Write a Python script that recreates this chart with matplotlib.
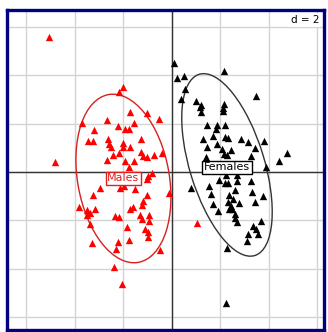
import numpy as np
import matplotlib
matplotlib.use("Agg")
import matplotlib.pyplot as plt
from matplotlib.patches import Ellipse

# Scores of individuals on the two axes
males_x = [-5.07, -2.02, -2.19, -1.73, -1.03, -0.54, -2.68, -3.71, -2.23, -1.57,
           -3.22, -1.94, -1.77, -3.46, -3.26, -2.64, -1.28, -2.60, -2.52, -2.02,
           -2.02, -1.73, -1.28, -1.20, -1.03, -0.74, -0.41, -2.43, -2.19, -2.68,
           -1.94, -1.57, -4.82, -1.77, -1.03, -0.99, -0.82, -2.97, -3.26, -2.14,
           -1.98, -1.53, -1.03, -1.20, -3.84, -3.51, -3.18, -3.38, -3.51, -1.73,
           -1.61, -1.24, -2.35, -2.19, -1.32, -1.24, -0.95, -0.95, -3.38, -1.86,
           -1.11, -0.99, -0.99, -3.30, -2.23, -2.31, -1.77, -0.49, -2.39, -2.06,
           -0.12, 1.03]
males_y = [5.58, 3.51, 3.31, 2.48, 2.44, 2.19, 2.15, 2.02, 1.90, 2.02,
           1.74, 1.78, 1.78, 1.28, 1.28, 1.36, 1.36, 1.16, 1.03, 1.20,
           1.03, 1.03, 0.83, 0.66, 0.62, 0.70, 0.79, 0.70, 0.79, 0.50,
           0.45, 0.45, 0.41, 0.21, -0.29, -0.17, -0.04, -0.66, -0.95, -0.66,
           -0.58, -0.70, -0.95, -1.20, -1.45, -1.57, -1.53, -1.69, -1.78, -1.53,
           -1.45, -1.36, -1.82, -1.86, -1.78, -1.94, -1.78, -2.02, -2.15, -2.27,
           -2.36, -2.48, -2.69, -2.93, -2.89, -3.18, -2.81, -3.22, -3.93, -4.63,
           -0.87, -2.11]

females_x = [0.08, 0.21, 0.49, 2.14, 0.54, 0.37, 0.99, 1.20, 1.15, 3.46,
             2.14, 2.10, 2.10, 1.20, 1.44, 1.86, 1.81, 2.19, 1.28, 1.69,
             2.19, 2.31, 2.85, 3.13, 3.79, 1.44, 1.86, 2.06, 2.43, 3.42,
             4.74, 4.41, 1.40, 2.14, 2.27, 3.26, 3.88, 0.78, 1.53, 1.61,
             1.94, 2.23, 2.19, 2.31, 2.68, 2.68, 3.26, 2.60, 3.30, 3.75,
             2.35, 2.52, 2.76, 2.31, 3.42, 1.69, 1.90, 2.43, 2.47, 2.35,
             2.60, 2.60, 2.68, 3.67, 3.34, 3.46, 3.55, 3.13, 3.09, 2.27,
             2.23]
females_y = [4.50, 3.88, 3.97, 4.17, 3.43, 3.02, 2.93, 2.77, 2.69, 3.14,
             2.81, 2.64, 2.52, 2.48, 1.94, 1.94, 1.78, 1.94, 1.36, 1.49,
             1.45, 1.40, 1.36, 1.24, 1.28, 1.03, 1.16, 0.95, 0.91, 0.99,
             0.79, 0.45, 0.62, 0.74, 0.70, 0.66, 0.21, -0.66, -0.58, -0.91,
             -0.33, -0.12, -0.45, -0.45, -0.12, -0.37, -0.37, -0.74, -0.83, -0.99,
             -0.95, -1.12, -1.28, -1.24, -1.24, -1.32, -1.61, -1.40, -1.53, -1.53,
             -1.74, -1.90, -2.07, -2.02, -2.23, -2.36, -2.56, -2.56, -2.85, -3.14,
             -5.41]

# class ellipses: centre, full width/height, angle (deg)
males_ell = (-2.00, -0.27, 7.04, 3.78, 100)
females_ell = (2.27, 0.29, 7.83, 3.08, 107)

fig = plt.figure(figsize=(3.28, 3.32), dpi=100)
ax = fig.add_axes([7 / 328, 2 / 332, 317 / 328, 320 / 332])

ax.set_xlim(-6.8, 6.27)
ax.set_ylim(-6.53, 6.69)
ax.set_xticks(np.arange(-6, 7, 2))
ax.set_yticks(np.arange(-6, 7, 2))
ax.tick_params(length=0, labelbottom=False, labelleft=False)
ax.grid(True, color="#d4d4d4", lw=1)
ax.set_axisbelow(True)
ax.axhline(0, color="#333333", lw=1, zorder=1)
ax.axvline(0, color="#333333", lw=1, zorder=1)

for s in ax.spines.values():
    s.set_color("#000080")
    s.set_linewidth(2.4)

ax.scatter(males_x, males_y, marker="^", s=28, color="red", lw=0, zorder=3)
ax.scatter(females_x, females_y, marker="^", s=28, color="black", lw=0, zorder=3)

for (cx, cy, w, h, ang), col in [(males_ell, "#d62020"), (females_ell, "#333333")]:
    ax.add_patch(Ellipse((cx, cy), w, h, angle=ang, fill=False,
                         edgecolor=col, lw=1, zorder=2))

ax.text(males_ell[0], males_ell[1], "Males", color="#e02020", fontsize=8,
        ha="center", va="center", zorder=4,
        bbox=dict(boxstyle="square,pad=0.15", fc="white", ec="#e02020", lw=1))
ax.text(females_ell[0], females_ell[1] - 0.1, "Females", color="black", fontsize=8,
        ha="center", va="center", zorder=4,
        bbox=dict(boxstyle="square,pad=0.15", fc="white", ec="black", lw=1))

ax.text(0.985, 0.985, "d = 2", transform=ax.transAxes, fontsize=7.5,
        ha="right", va="top", zorder=4,
        bbox=dict(boxstyle="square,pad=0.2", fc="white", ec="none"))

fig.savefig("out.png", dpi=100, facecolor="white")
